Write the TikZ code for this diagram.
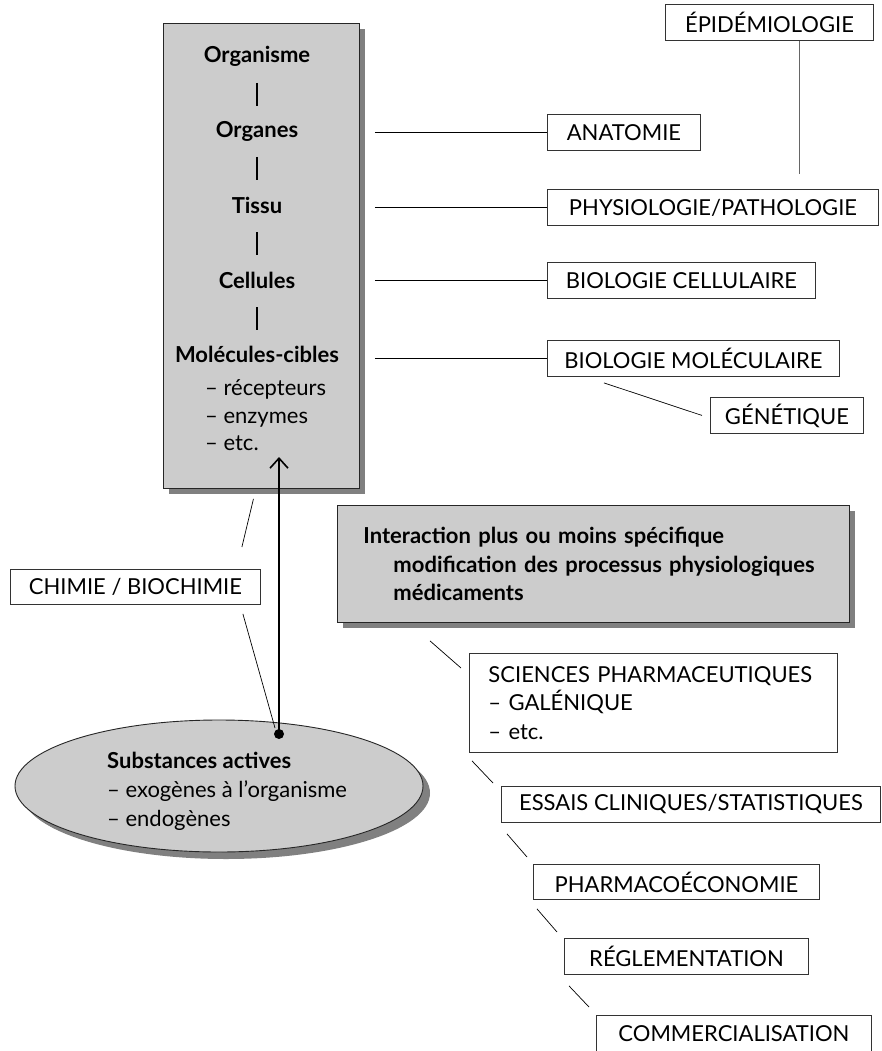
\documentclass[tikz,border=0pt]{standalone}
\usepackage{fontspec}
\setmainfont{Lato}
\usetikzlibrary{shapes.geometric,shadows,arrows.meta,calc}
\begin{document}
\begin{tikzpicture}[x=1pt,y=-1pt,
  lab/.style={draw=black!80, line width=0.9pt, inner sep=0pt, minimum height=36pt, anchor=north west, font=\fontsize{22}{26}\selectfont},
  conn/.style={line width=0.7pt},
  grayfill/.style={fill=black!20, draw=black!85, line width=0.9pt, drop shadow={shadow xshift=6pt, shadow yshift=-6pt, fill=black!50, opacity=1}},
  boldtxt/.style={font=\fontsize{22}{26}\selectfont\bfseries, inner sep=0pt},
  regtxt/.style={font=\fontsize{22}{26}\selectfont, inner sep=0pt},
  bar/.style={line width=2.8pt}
]
\useasboundingbox (0,0) rectangle (881,1051);
\fill[white] (0,0) rectangle (881,1051);

% main column box
\node[grayfill, anchor=north west, minimum width=196pt, minimum height=465pt, inner sep=0pt] (main) at (163,23) {};
\node[boldtxt, anchor=base] (org) at (257,63) {Organisme};
\node[boldtxt, anchor=base] (orgs) at (257,138) {Organes};
\node[boldtxt, anchor=base] (tis) at (257,213) {Tissu};
\node[boldtxt, anchor=base] (cel) at (257,288) {Cellules};
\node[boldtxt, anchor=base] (mol) at (257,362) {Molécules-cibles};
\node[regtxt, anchor=base west] (rec) at (205,395) {– récepteurs};
\node[regtxt, anchor=base west] (enz) at (205,423) {– enzymes};
\node[regtxt, anchor=base west] (etc) at (205,450) {– etc.};
\draw[bar] ($(org.base)+(0,20)$) -- ($(orgs.base)+(0,-32)$);
\draw[bar] ($(orgs.base)+(0,19)$) -- ($(tis.base)+(0,-33)$);
\draw[bar] ($(tis.base)+(0,19)$) -- ($(cel.base)+(0,-33)$);
\draw[bar] ($(cel.base)+(0,19)$) -- ($(mol.base)+(0,-32)$);

% right-hand labels
\node[lab, minimum width=208pt] (epi) at (665,4) {ÉPIDÉMIOLOGIE};
\node[lab, minimum width=153pt] (anat) at (547,114) {ANATOMIE};
\node[lab, minimum width=331pt] (phys) at (547,189) {PHYSIOLOGIE/PATHOLOGIE};
\node[lab, minimum width=268pt] (biocel) at (547,262) {BIOLOGIE CELLULAIRE};
\node[lab, minimum width=292pt] (biomol) at (547,340) {BIOLOGIE MOLÉCULAIRE};
\node[lab, minimum width=153pt] (gen) at (710,397) {GÉNÉTIQUE};

\draw[conn] ([xshift=15pt]main.east |- anat.west) -- (anat.west);
\draw[conn] ([xshift=15pt]main.east |- phys.west) -- (phys.west);
\draw[conn] ([xshift=15pt]main.east |- biocel.west) -- (biocel.west);
\draw[conn] ([xshift=15pt]main.east |- biomol.west) -- (biomol.west);
\draw[black!60, line width=1.2pt] ([xshift=30pt]epi.south) -- ++(0,133);
\draw[conn] ($(biomol.south west)+(57,6)$) -- ($(gen.west)+(-8,0)$);

% interaction box
\node[grayfill, anchor=north west, minimum width=512pt, minimum height=117pt, inner xsep=26pt, inner ysep=0pt, text width=460pt, align=left, font=\fontsize{22}{28.5}\selectfont\bfseries] (inter) at (337,505)
  {Interaction plus ou moins spécifique\\\hspace*{30pt}modification des processus physiologiques\\\hspace*{30pt}médicaments\\[-6pt]};

% chemistry label and active substances
\node[lab, minimum width=250pt, minimum height=35pt] (chim) at (10,569) {CHIMIE / BIOCHIMIE};
\node[grayfill, ellipse, minimum width=408pt, minimum height=132pt, inner sep=0pt, drop shadow={shadow xshift=7pt, shadow yshift=-7pt, fill=black!50, opacity=1}] (subst) at (219,786) {};
\node[boldtxt, anchor=base west] (subt) at (107,768) {Substances actives};
\node[regtxt, anchor=base west] (exo) at (107,797) {– exogènes à l’organisme};
\node[regtxt, anchor=base west] (endo) at (107,826) {– endogènes};
\node[circle, fill=black, inner sep=0pt, minimum size=10pt] (dot) at (279,734) {};
\coordinate (tip) at (279,457);
\draw[line width=2.4pt, -{Straight Barb[length=10pt,width=18pt,line width=1.6pt]}] (dot.center) -- (tip);
\draw[conn] ($(chim.north east)+(-19,-22)$) -- ($(main.south)+(-8,10)$);
\draw[conn] ($(chim.south east)+(-18,9)$) -- ($(dot.center)+(-4,-6)$);

% pharmaceutical chain
\node[lab, minimum width=368pt, minimum height=99pt, inner xsep=19pt, text width=330pt, align=left, font=\fontsize{22}{28.5}\selectfont] (sci) at (469,653)
  {SCIENCES PHARMACEUTIQUES\\– GALÉNIQUE\\– etc.};
\node[lab, minimum width=379pt] (essais) at (501,786) {ESSAIS CLINIQUES/STATISTIQUES};
\node[lab, minimum width=286pt, minimum height=35pt] (pharm) at (533,864) {PHARMACOÉCONOMIE};
\node[lab, minimum width=244pt] (regl) at (564,938) {RÉGLEMENTATION};
\node[lab, minimum width=275pt] (comm) at (596,1015) {COMMERCIALISATION};

\draw[conn] ($(inter.south west)+(93,18)$) -- ($(sci.north west)+(-8,15)$);
\draw[conn] ($(sci.south west)+(3,8)$) -- ($(essais.north west)+(-8,-3)$);
\draw[conn] ($(essais.south west)+(6,11)$) -- ($(pharm.north west)+(-6,-7)$);
\draw[conn] ($(pharm.south west)+(4,9)$) -- ($(regl.north west)+(-7,-6)$);
\draw[conn] ($(regl.south west)+(5,11)$) -- ($(comm.north west)+(-7,-8)$);
\end{tikzpicture}
\end{document}
